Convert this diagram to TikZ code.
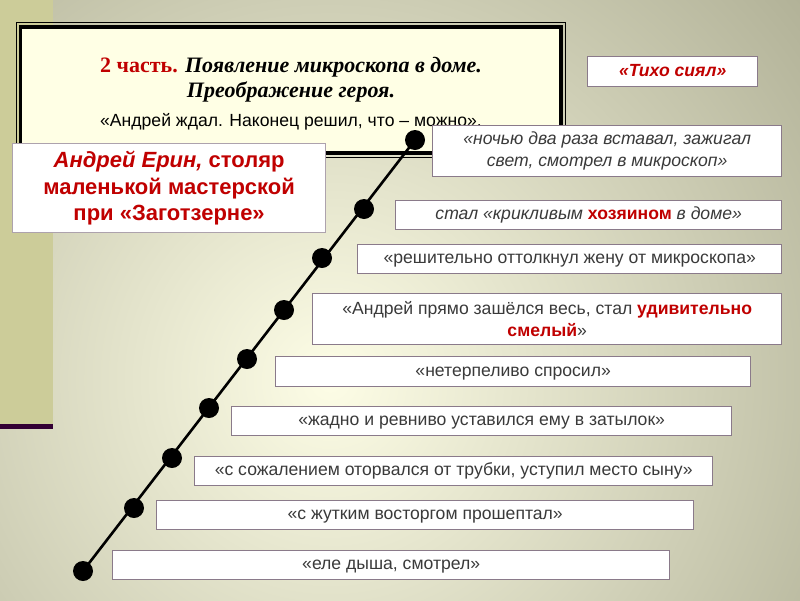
\documentclass[tikz,border=0pt]{standalone}
\usepackage{fontspec}
\setmainfont{Liberation Sans}
\newfontfamily\titleserif{Liberation Serif}
\definecolor{stripfill}{HTML}{CCCC99}
\definecolor{stripbar}{HTML}{330033}
\definecolor{glowin}{HTML}{FDFDE6}
\definecolor{glowout}{HTML}{86866A}
\definecolor{titlefill}{HTML}{FFFFE5}
\definecolor{redword}{HTML}{C00000}
\definecolor{quoteink}{HTML}{3A3A3A}
\definecolor{boxedge}{HTML}{8A7A8A}
\tikzset{
  quote box/.style={draw=boxedge,line width=1.4pt,fill=white,anchor=north west,
    inner sep=0pt,align=center,text=quoteink,font=\fontsize{17.6}{22}\selectfont},
  one line/.style={text height=13pt,text depth=3.8pt},
  two lines/.style={},
  stage dot/.style={circle,fill=black,minimum size=20pt,inner sep=0pt},
}

\begin{document}
\begin{tikzpicture}[x=1pt,y=-1pt]
\useasboundingbox (0,0) rectangle (800,600);
% backdrop
\fill[glowout] (0,0) rectangle (800,600);
\begin{scope}
  \clip (0,0) rectangle (800,600);
  \shade[inner color=glowin,outer color=glowout] (330,380) circle[radius=960pt];
\end{scope}
\fill[stripfill] (0,0) rectangle (53,424);
\fill[stripbar] (0,424) rectangle (53,429);

% title frame
\draw[line width=3.5pt,fill=titlefill] (20.5,27) rectangle (561,153);
\draw[line width=1pt] (16.5,22.5) rectangle (565,157.5);
\node[align=center,inner sep=0pt,font=\titleserif\bfseries\fontsize{22}{25}\selectfont] (title) at (291,94)
  {\textcolor{redword}{2 часть.} \itshape Появление микроскопа в доме.\\
   \itshape Преображение героя.\\[4pt]
   \normalfont\fontsize{17.6}{22}\selectfont «Андрей ждал. Наконец решил, что – можно».};

\node[draw=boxedge!70,line width=1.2pt,fill=white,anchor=north west,minimum width=313pt,
  minimum height=89pt,inner sep=0pt,align=center,text=redword,
  font=\bfseries\fontsize{22}{26.5}\selectfont] (hero) at (12,143)
  {\itshape Андрей Ерин,\upshape{} столяр\\ маленькой мастерской\\ при «Заготзерне»};

\node[quote box,one line,minimum width=170pt,minimum height=30pt,text=redword,
  font=\bfseries\itshape\fontsize{17.6}{20}\selectfont] (calm) at (587,56) {«Тихо сиял»};

% quotes along the ladder
\foreach \name/\x/\y/\w/\h/\lines/\txt in {
  q1/432/125/349/51/two lines/{\itshape «ночью два раза вставал, зажигал\\ \itshape свет, смотрел в микроскоп»},
  q2/395/200/386/29/one line/{\itshape стал «крикливым \textcolor{redword}{\upshape\bfseries хозяином} в доме»},
  q3/357/244/424/29/one line/{«решительно оттолкнул жену от микроскопа»},
  q4/312/293/469/51/two lines/{«Андрей прямо зашёлся весь, стал \textcolor{redword}{\bfseries удивительно}\\ \textcolor{redword}{\bfseries смелый}»},
  q5/275/356/475/30/one line/{«нетерпеливо спросил»},
  q6/231/406/500/29/one line/{«жадно и ревниво уставился ему в затылок»},
  q7/194/456/518/29/one line/{«с сожалением оторвался от трубки, уступил место сыну»},
  q8/156/500/537/29/one line/{«с жутким восторгом прошептал»},
  q9/112/550/557/29/one line/{«еле дыша, смотрел»}}
  \node[quote box,\lines,minimum width=\w pt,minimum height=\h pt] (\name) at (\x,\y) {\txt};

\foreach \i/\x/\y in {1/415/140, 2/364/209, 3/322/258, 4/284/310, 5/247/359,
  6/209/408, 7/172/458, 8/134/508, 9/83/571}
  \node[stage dot] (d\i) at (\x,\y) {};
\draw[line width=2.6pt] (d9.center) -- (d1.center);
\end{tikzpicture}
\end{document}
